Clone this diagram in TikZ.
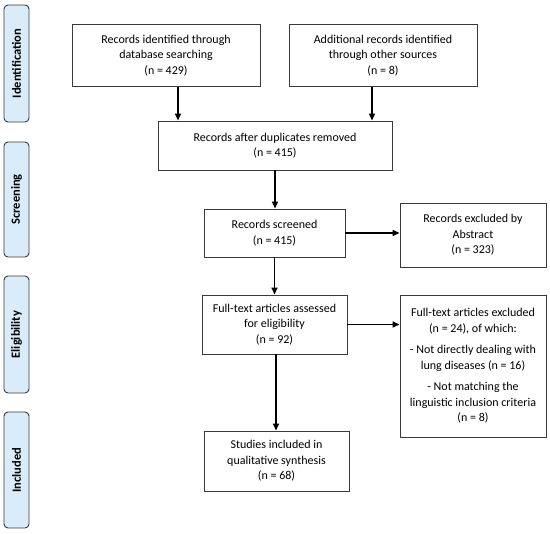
\documentclass[tikz,border=0pt]{standalone}
\usepackage{fontspec}
\setmainfont{Carlito}
\usetikzlibrary{arrows.meta}
\definecolor{sideblue}{HTML}{DAECFA}
\definecolor{edge}{HTML}{3A3A3A}
\begin{document}
\begin{tikzpicture}[x=1pt,y=-1pt,
  box/.style={draw=edge,line width=0.9pt,inner sep=0pt,align=center,font=\fontsize{12}{15.5}\selectfont},
  side/.style={draw=edge,line width=0.9pt,fill=sideblue,rounded corners=4pt,minimum width=25pt,inner sep=0pt},
  sidetext/.style={rotate=90,font=\bfseries\fontsize{12.5}{14}\selectfont},
  arr/.style={-{Triangle[length=7pt,width=6pt]},line width=1.4pt,black}]
\useasboundingbox (0,0) rectangle (550,534);
% side labels
\node[side,minimum height=117pt] (sid) at (16.5,63.5) {}; \node[sidetext] (tid) at (sid.center) {Identification};
\node[side,minimum height=115pt] (ssc) at (16.5,199.5) {}; \node[sidetext] (tsc) at (ssc.center) {Screening};
\node[side,minimum height=117pt] (sel) at (16.5,334.5) {}; \node[sidetext] (tel) at (sel.center) {Eligibility};
\node[side,minimum height=116pt] (sin) at (16.5,470) {}; \node[sidetext] (tin) at (sin.center) {Included};
% boxes
\node[box,minimum width=188pt,minimum height=62pt] (b1) at (166,55.5) {Records identified through\\database searching\\(n = 429)};
\node[box,minimum width=188pt,minimum height=62pt] (b2) at (383,55.5) {Additional records identified\\through other sources\\(n = 8)};
\node[box,minimum width=234pt,minimum height=49pt] (b3) at (275,145.5) {Records after duplicates removed\\(n = 415)};
\node[box,minimum width=141pt,minimum height=48pt] (b4) at (274.5,233) {Records screened\\(n = 415)};
\node[box,minimum width=146pt,minimum height=64pt] (b5) at (473,235) {Records excluded by\\Abstract\\(n = 323)};
\node[box,minimum width=145pt,minimum height=59pt] (b6) at (274.5,324.5) {Full-text articles assessed\\for eligibility\\(n = 92)};
\node[box,minimum width=146pt,minimum height=142pt] (b7) at (473,366) {Full-text articles excluded\\(n = 24), of which:\\[6pt]- Not directly dealing with\\lung diseases (n = 16)\\[6pt]- Not matching the\\linguistic inclusion criteria\\(n = 8)};
\node[box,minimum width=145pt,minimum height=60pt] (b8) at (276.5,461) {Studies included in\\qualitative synthesis\\(n = 68)};
% arrows
\draw[arr] ([xshift=12pt]b1.south) -- ([xshift=12pt]b1.south |- b3.north);
\draw[arr] ([xshift=-11pt]b2.south) -- ([xshift=-11pt]b2.south |- b3.north);
\draw[arr] (b3.south) -- (b3.south |- b4.north);
\draw[arr] (b4.south) -- (b4.south |- b6.north);
\draw[arr] (b4.east) -- (b4.east -| b5.west);
\draw[arr] (b6.east) -- (b6.east -| b7.west);
\draw[arr] ([xshift=1.5pt]b6.south) -- ([xshift=1.5pt]b6.south |- b8.north);
\end{tikzpicture}
\end{document}
